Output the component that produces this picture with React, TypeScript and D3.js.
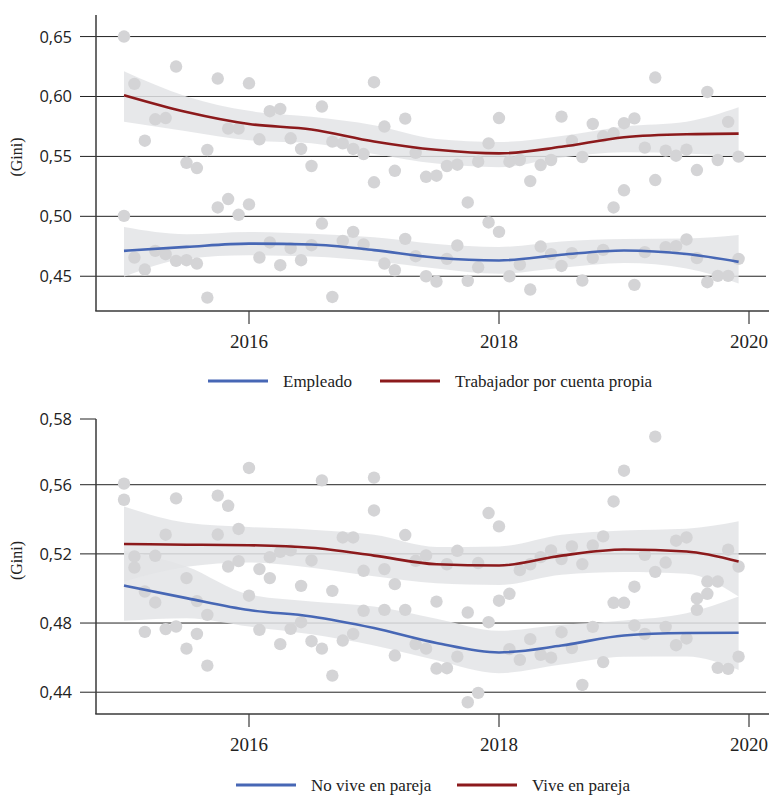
import React from "react";
import * as d3 from "d3";

// monthly observations, Jan 2015 .. Dec 2019
const startYear = 2015;
const nMonths = 60;
const monthT = d3.range(nMonths).map((i) => startYear + i / 12);

// panel 1: by occupation
const empleado = [
  0.5004, 0.4656, 0.4556, 0.4712, 0.4684, 0.4628, 0.4634, 0.4606, 0.4322, 0.5074,
  0.5144, 0.5013, 0.51, 0.4656, 0.4782, 0.4592, 0.4734, 0.4634, 0.4759, 0.494,
  0.4327, 0.4795, 0.487, 0.4765, 0.5284, 0.4606, 0.455, 0.4812, 0.4667, 0.45,
  0.4456, 0.4645, 0.4757, 0.4461, 0.4575, 0.4949, 0.487, 0.45, 0.4598, 0.4389,
  0.4748, 0.4685, 0.4586, 0.4692, 0.4464, 0.4653, 0.472, 0.5074, 0.5217, 0.4428,
  0.4701, 0.5303, 0.4743, 0.4751, 0.4807, 0.4651, 0.445, 0.4503, 0.4503, 0.4645,
];
const cuentaPropia = [
  0.65, 0.6105, 0.5631, 0.581, 0.582, 0.625, 0.5447, 0.5403, 0.5554, 0.615,
  0.5732, 0.5732, 0.611, 0.5643, 0.5877, 0.5896, 0.5651, 0.5562, 0.542, 0.5916,
  0.5623, 0.5609, 0.5562, 0.552, 0.6119, 0.5749, 0.538, 0.5815, 0.553, 0.533,
  0.5339, 0.542, 0.5431, 0.5116, 0.5456, 0.5609, 0.582, 0.5456, 0.547, 0.5294,
  0.5428, 0.547, 0.5832, 0.563, 0.5495, 0.5771, 0.5668, 0.5693, 0.5777, 0.5817,
  0.5573, 0.6158, 0.5548, 0.5506, 0.5556, 0.5386, 0.6038, 0.547, 0.5788, 0.5498,
];

// panel 2: by household
const noPareja = [
  0.5513, 0.5121, 0.4749, 0.4919, 0.4765, 0.478, 0.4652, 0.4737, 0.4554, 0.5312,
  0.5127, 0.5158, 0.4958, 0.4761, 0.506, 0.4678, 0.4766, 0.4805, 0.4695, 0.4652,
  0.4496, 0.4699, 0.4737, 0.4871, 0.5451, 0.4876, 0.4612, 0.4876, 0.4678, 0.4652,
  0.4537, 0.4539, 0.4606, 0.4342, 0.4396, 0.4805, 0.4929, 0.4649, 0.4587, 0.4707,
  0.4616, 0.46, 0.4747, 0.4655, 0.4442, 0.4778, 0.4574, 0.4917, 0.4917, 0.4786,
  0.4737, 0.5096, 0.4778, 0.4672, 0.4711, 0.4876, 0.4969, 0.4541, 0.4535, 0.4606,
];
const pareja = [
  0.5606, 0.5185, 0.4982, 0.5189, 0.5311, 0.5521, 0.506, 0.4927, 0.4847, 0.5537,
  0.5478, 0.5344, 0.5697, 0.5112, 0.5181, 0.5212, 0.522, 0.5015, 0.5162, 0.5625,
  0.4986, 0.5295, 0.5295, 0.5102, 0.5641, 0.5112, 0.5025, 0.5309, 0.516, 0.5191,
  0.4924, 0.514, 0.5218, 0.4861, 0.5147, 0.5436, 0.5359, 0.4969, 0.5106, 0.514,
  0.5181, 0.522, 0.517, 0.5243, 0.5141, 0.5249, 0.5301, 0.5503, 0.5681, 0.501,
  0.5195, 0.5878, 0.515, 0.5276, 0.5295, 0.4942, 0.504, 0.504, 0.5224, 0.5127,
];

// smoothed trend + confidence band, read at half-year knots
const smoothT = [2015, 2015.5, 2016, 2016.5, 2017, 2017.5, 2018, 2018.5, 2019, 2019.5, 2019.917];

const empFit = [0.4712, 0.4745, 0.4772, 0.4765, 0.4718, 0.4655, 0.4632, 0.468, 0.4715, 0.4685, 0.462];
const empHi = [0.491, 0.485, 0.487, 0.4855, 0.4825, 0.477, 0.4745, 0.479, 0.481, 0.4815, 0.4845];
const empLo = [0.4495, 0.4648, 0.4676, 0.4665, 0.4625, 0.4565, 0.452, 0.457, 0.461, 0.4565, 0.444];

const cpFit = [0.601, 0.587, 0.577, 0.5725, 0.5625, 0.5555, 0.5525, 0.558, 0.566, 0.5685, 0.569];
const cpHi = [0.621, 0.6, 0.588, 0.583, 0.576, 0.5645, 0.562, 0.567, 0.575, 0.579, 0.591];
const cpLo = [0.579, 0.571, 0.5635, 0.561, 0.552, 0.544, 0.541, 0.549, 0.5535, 0.5525, 0.55];

const npFit = [0.5017, 0.4944, 0.4875, 0.4838, 0.4771, 0.4685, 0.463, 0.467, 0.4728, 0.4742, 0.4744];
const npHi = [0.522, 0.5127, 0.4965, 0.4925, 0.4895, 0.4825, 0.4755, 0.479, 0.4815, 0.4857, 0.4953];
const npLo = [0.4813, 0.4828, 0.478, 0.4735, 0.467, 0.4585, 0.451, 0.456, 0.4605, 0.4606, 0.4529];

const pFit = [0.5257, 0.5253, 0.525, 0.5235, 0.519, 0.514, 0.5133, 0.519, 0.5225, 0.5214, 0.5156];
const pHi = [0.5474, 0.538, 0.5355, 0.534, 0.531, 0.524, 0.5243, 0.531, 0.5335, 0.5345, 0.5388];
const pLo = [0.504, 0.5125, 0.515, 0.512, 0.507, 0.503, 0.502, 0.508, 0.5095, 0.5085, 0.4953];

const yearTicks = [2016, 2018, 2020];
const topTicks = [0.45, 0.5, 0.55, 0.6, 0.65];
const topTickLabels = ["0,45", "0,50", "0,55", "0,60", "0,65"];
const bottomTicks = [0.44, 0.48, 0.52, 0.56, 0.598];
const bottomTickLabels = ["0,44", "0,48", "0,52", "0,56", "0,58"];

const BLUE = "#4767b5";
const RED = "#8c1a1c";
const POINT = "#d4d4d6";
const BAND = "#e3e4e6";
const SERIF = "'Liberation Serif', serif";
const SANS = "'Open Sans', sans-serif";

const x = d3.scaleLinear().domain([2014.776, 2020.144]).range([96, 767]);

function Panel({ yDomain, yRange, ticks, tickLabels, series, legend, legendY }: any) {
  const y = d3.scaleLinear().domain(yDomain).range(yRange);
  const [yBottom, yTop] = yRange;
  const area = d3
    .area<number>()
    .x((d, i) => x(smoothT[i]))
    .curve(d3.curveMonotoneX);
  const line = d3
    .line<number>()
    .x((d, i) => x(smoothT[i]))
    .y((d) => y(d))
    .curve(d3.curveMonotoneX);
  const maxV = yDomain[1];

  return (
    <g>
      {/* grid + y ticks */}
      {ticks.map((v: number, i: number) => (
        <g key={"t" + i}>
          <line
            x1={80}
            x2={v >= maxV - 1e-6 ? 96 : 766}
            y1={y(v)}
            y2={y(v)}
            stroke="#222"
            strokeWidth={1}
          />
          <text
            x={72}
            y={y(v)}
            dy="0.36em"
            textAnchor="end"
            fontFamily={SANS}
            fontSize={16.5}
            fill="#222"
          >
            {tickLabels[i]}
          </text>
        </g>
      ))}
      <text
        transform={`translate(22,${(yBottom + yTop) / 2 - 6}) rotate(-90)`}
        textAnchor="middle"
        fontFamily={SERIF}
        fontSize={16}
        fill="#222"
      >
        (Gini)
      </text>

      {/* confidence bands */}
      {series.map((s: any, k: number) => (
        <path
          key={"b" + k}
          d={
            area
              .y0((d, i) => y(s.lo[i]))
              .y1((d, i) => y(s.hi[i]))(s.fit) || ""
          }
          fill={BAND}
          fillOpacity={0.85}
        />
      ))}

      {/* observations */}
      {series.map((s: any, k: number) =>
        s.values.map((v: number, i: number) => (
          <circle key={"p" + k + "-" + i} cx={x(monthT[i])} cy={y(v)} r={6.2} fill={POINT} />
        ))
      )}

      {/* trends */}
      {series.map((s: any, k: number) => (
        <path key={"l" + k} d={line(s.fit) || ""} fill="none" stroke={s.color} strokeWidth={2.6} />
      ))}

      {/* axes */}
      <line x1={96} x2={96} y1={yTop} y2={yBottom} stroke="#3a3a3a" strokeWidth={1.5} />
      <line x1={95.25} x2={769} y1={yBottom} y2={yBottom} stroke="#3a3a3a" strokeWidth={1.5} />
      {yearTicks.map((t) => (
        <g key={"x" + t}>
          <line x1={x(t)} x2={x(t)} y1={yBottom} y2={yBottom + 13} stroke="#3a3a3a" strokeWidth={1.2} />
          <text
            x={x(t)}
            y={yBottom + 37}
            textAnchor="middle"
            fontFamily={SERIF}
            fontSize={19}
            fill="#222"
          >
            {t}
          </text>
        </g>
      ))}

      {/* legend */}
      {legend.map((l: any) => (
        <g key={l.label}>
          <line x1={l.x} x2={l.x + 60} y1={legendY} y2={legendY} stroke={l.color} strokeWidth={3} />
          <text x={l.x + 75} y={legendY + 6} fontFamily={SERIF} fontSize={17} fill="#222">
            {l.label}
          </text>
        </g>
      ))}
    </g>
  );
}

export default function App() {
  return (
    <svg
      width={769}
      height={795}
      style={{ position: "absolute", left: 0, top: 0, display: "block", background: "#fff" }}
    >
      <Panel
        yDomain={[0.421, 0.668]}
        yRange={[311, 15]}
        ticks={topTicks}
        tickLabels={topTickLabels}
        series={[
          { values: empleado, fit: empFit, hi: empHi, lo: empLo, color: BLUE },
          { values: cuentaPropia, fit: cpFit, hi: cpHi, lo: cpLo, color: RED },
        ]}
        legendY={381}
        legend={[
          { label: "Empleado", color: BLUE, x: 208 },
          { label: "Trabajador por cuenta propia", color: RED, x: 380 },
        ]}
      />
      <Panel
        yDomain={[0.4274, 0.598]}
        yRange={[714, 419]}
        ticks={bottomTicks}
        tickLabels={bottomTickLabels}
        series={[
          { values: noPareja, fit: npFit, hi: npHi, lo: npLo, color: BLUE },
          { values: pareja, fit: pFit, hi: pHi, lo: pLo, color: RED },
        ]}
        legendY={785}
        legend={[
          { label: "No vive en pareja", color: BLUE, x: 236 },
          { label: "Vive en pareja", color: RED, x: 457 },
        ]}
      />
    </svg>
  );
}
